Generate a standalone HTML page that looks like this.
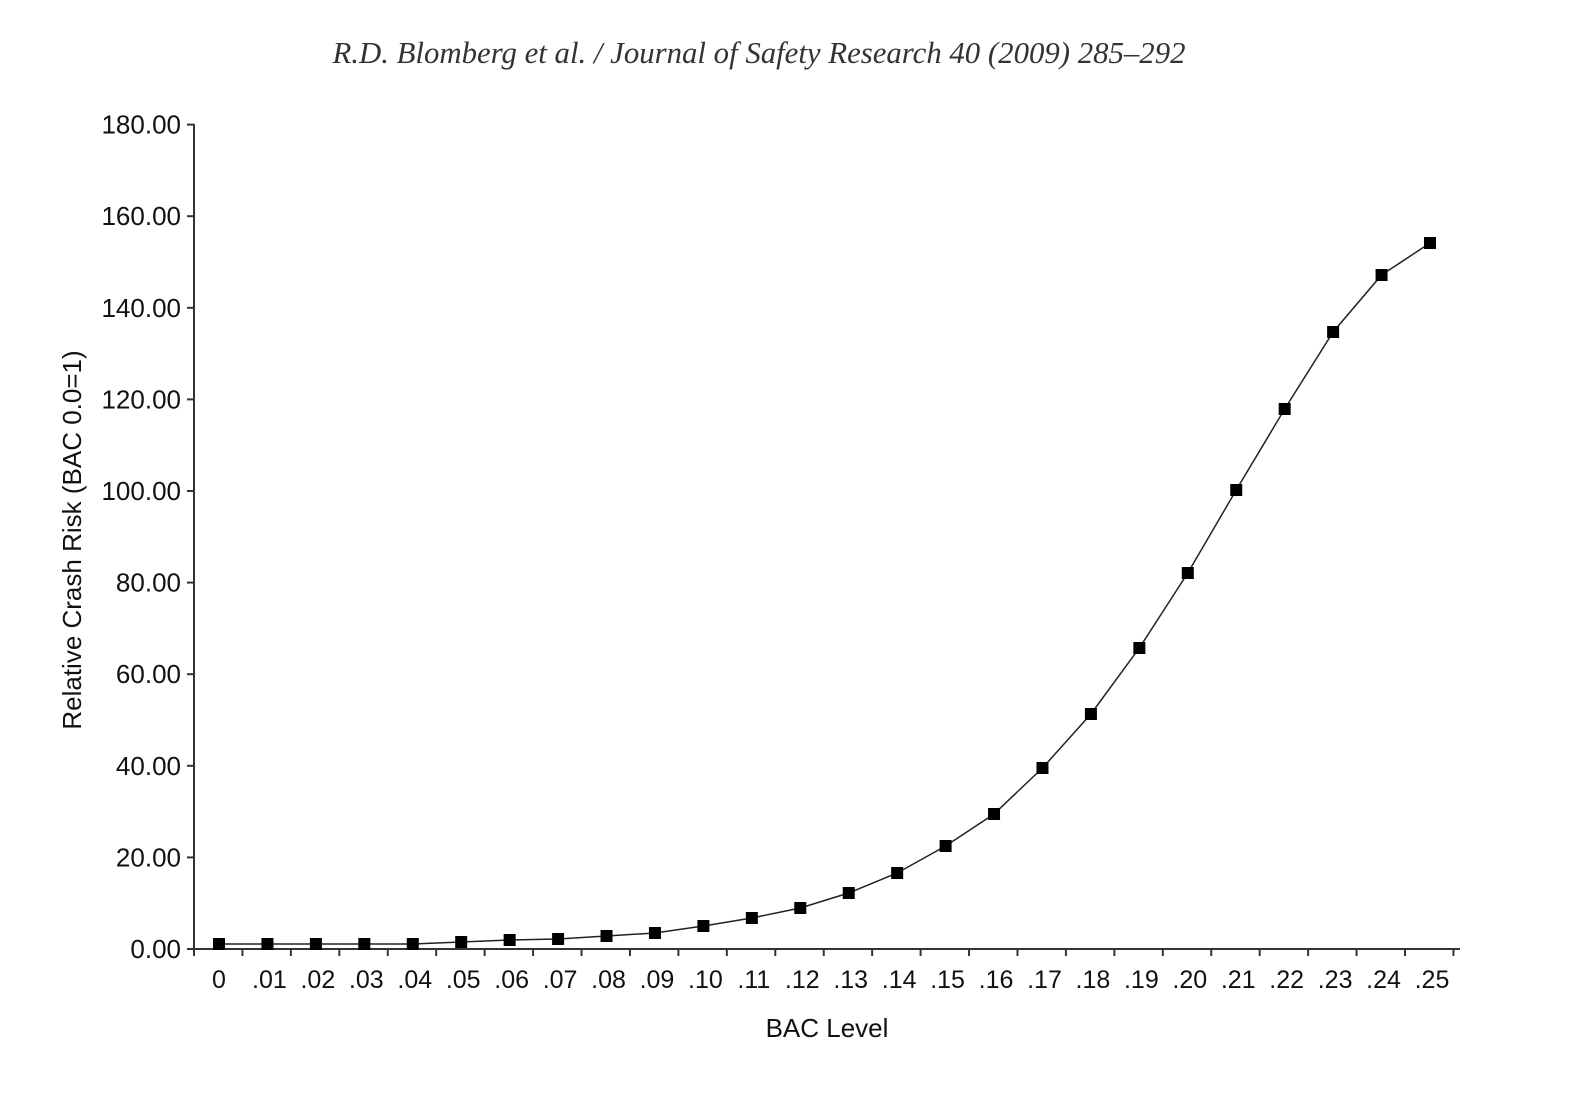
<!DOCTYPE html>
<html><head><meta charset="utf-8"><style>body{margin:0;background:#fff}svg{display:block}</style></head><body>
<svg width="1570" height="1094" xmlns="http://www.w3.org/2000/svg">
<text x="759" y="63" text-anchor="middle" font-family="Liberation Serif, serif" font-style="italic" font-size="30.8" fill="#333">R.D. Blomberg et al. / Journal of Safety Research 40 (2009) 285–292</text>
<g stroke="#333" stroke-width="2" fill="none">
<line x1="194" y1="124" x2="194" y2="950"/>
<line x1="194" y1="949" x2="1460" y2="949"/>
</g>
<g stroke="#333" stroke-width="2" id="yt"></g>
<g font-family="Liberation Sans, sans-serif" font-size="26" fill="#111" text-anchor="end" id="yl"></g>
<g font-family="Liberation Sans, sans-serif" font-size="25" fill="#111" text-anchor="middle" id="xl"></g>
<text x="827" y="1037" text-anchor="middle" font-family="Liberation Sans, sans-serif" font-size="26" fill="#111">BAC Level</text>
<text transform="translate(81,540) rotate(-90)" text-anchor="middle" font-family="Liberation Sans, sans-serif" font-size="26" fill="#111">Relative Crash Risk (BAC 0.0=1)</text>
<polyline id="ln" fill="none" stroke="#222" stroke-width="1.5"/>
<g id="mk" fill="#000"></g>
</svg>
<script>
var ns="http://www.w3.org/2000/svg";
function el(p,t,a,txt){var e=document.createElementNS(ns,t);for(var k in a)e.setAttribute(k,a[k]);if(txt!=null)e.textContent=txt;document.getElementById(p).appendChild(e);}
for(var i=0;i<=9;i++){var y=949-i*91.6;el('yt','line',{x1:187,x2:194,y1:y,y2:y});el('yl','text',{x:181,y:y+9},(i*20).toFixed(2));}
var step=48.44;
for(var k=0;k<=26;k++){var x=194+k*step;if(x>1461)x=1459;el('yt','line',{x1:x,x2:x,y1:949,y2:956});}
var ys=[943,943,943,943,943,941,939,938,935,932,925,917,907,892,872,845,813,767,713,647,572,489,408,331,274,242];
var pts=[];
for(var k=0;k<26;k++){var x=219+k*step;pts.push(x+','+(ys[k]+1));el('mk','rect',{x:x-6,y:ys[k]-5,width:12,height:12});
el('xl','text',{x:x+(k==0?0:2),y:988},k==0?'0':'.'+(k<10?'0':'')+k);}
document.getElementById('ln').setAttribute('points',pts.join(' '));
</script>
</body></html>
